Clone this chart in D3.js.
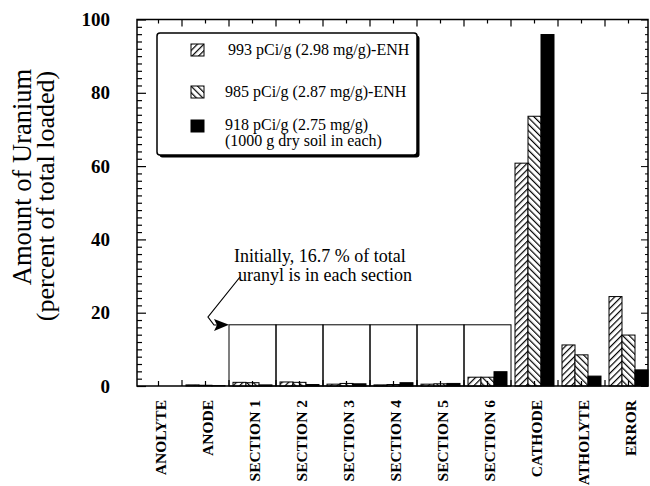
<!DOCTYPE html>
<html>
<head>
<meta charset="utf-8">
<script src="https://cdn.jsdelivr.net/npm/d3@7"></script>
<style>
  html, body { margin: 0; padding: 0; background: #fff; }
  svg { display: block; }
  text { font-family: "Liberation Serif", "Times New Roman", serif; fill: #000; }
</style>
</head>
<body>
<svg id="chart" width="650" height="486"></svg>
<script>
// ---- data ----
const categories = ["ANOLYTE", "ANODE", "SECTION 1", "SECTION 2", "SECTION 3", "SECTION 4",
                    "SECTION 5", "SECTION 6", "CATHODE", "CATHOLYTE", "ERROR"];
const seriesNames = ["993 pCi/g (2.98 mg/g)-ENH", "985 pCi/g (2.87 mg/g)-ENH", "918 pCi/g (2.75 mg/g)"];
const legendExtra = "(1000 g dry soil in each)";
const series993 = [0, 0.3, 1.0, 1.1, 0.5, 0.3, 0.5, 2.4, 60.8, 11.2, 24.4];
const series985 = [0, 0.2, 0.9, 1.0, 0.7, 0.4, 0.6, 2.4, 73.6, 8.5, 13.9];
const series918 = [0, 0.1, 0.3, 0.4, 0.6, 0.9, 0.7, 3.9, 95.9, 2.7, 4.4];
const yTicks = [0, 20, 40, 60, 80, 100];
const sectionCats = ["SECTION 1", "SECTION 2", "SECTION 3", "SECTION 4", "SECTION 5", "SECTION 6"];
const initialPct = 16.7;
const annotationLines = ["Initially, 16.7 % of total", "uranyl is in each section"];
const yTitleLines = ["Amount of Uranium", "(percent of total loaded)"];

const svg = d3.select("#chart");

// ---- scales ----
const xLeft = 137, xRight = 648, yTop = 19.5, yBot = 386;
const x = d3.scaleBand().domain(categories).range([135, 652]).padding(0);
const xs = d3.scaleBand().domain([0, 1, 2]).range([4, 43]).padding(0);
const y = d3.scaleLinear().domain([0, 100]).range([yBot, yTop]);

// ---- patterns ----
const defs = svg.append("defs");
function hatch(id, dir) {
  const p = defs.append("pattern").attr("id", id).attr("patternUnits", "userSpaceOnUse")
    .attr("width", 4.6).attr("height", 4.6)
    .attr("patternTransform", `rotate(${dir})`);
  p.append("rect").attr("width", 4.6).attr("height", 4.6).attr("fill", "#fff");
  p.append("line").attr("x1", 0).attr("y1", 0).attr("x2", 0).attr("y2", 4.6)
    .attr("stroke", "#000").attr("stroke-width", 2.4);
}
hatch("hatchA", 45);
hatch("hatchB", -45);
const fills = ["url(#hatchA)", "url(#hatchB)", "#000"];
const data = [series993, series985, series918];

// ---- section boxes (initial 16.7 %) ----
const boxG = svg.append("g");
sectionCats.forEach(c => {
  boxG.append("rect")
    .attr("x", x(c)).attr("y", y(initialPct))
    .attr("width", x.bandwidth()).attr("height", y(0) - y(initialPct))
    .attr("fill", "none").attr("stroke", "#000").attr("stroke-width", 1);
});

// ---- bars ----
const barG = svg.append("g");
categories.forEach((c, i) => {
  data.forEach((s, k) => {
    const v = s[i];
    if (v <= 0) return;
    barG.append("rect")
      .attr("x", x(c) + xs(k)).attr("y", y(v))
      .attr("width", xs.bandwidth()).attr("height", y(0) - y(v))
      .attr("fill", fills[k]).attr("stroke", "#000").attr("stroke-width", 1);
  });
});

// ---- frame and axes ----
const frame = svg.append("g").attr("stroke", "#000").attr("stroke-width", 1.5).attr("fill", "none");
frame.append("path").attr("d", `M${xLeft},${yTop}H${xRight}V${yBot}H${xLeft}Z`);

const minorTicks = d3.range(0, 101, 2).filter(v => v % 20 !== 0);
const axL = svg.append("g").attr("transform", `translate(${xLeft},0)`);
axL.call(d3.axisLeft(y).tickValues(yTicks).tickSize(-9).tickFormat(""));
axL.append("g").call(d3.axisLeft(y).tickValues(minorTicks).tickSize(-5).tickFormat(""));
axL.selectAll(".domain").remove();
axL.selectAll("line").attr("stroke-width", 1.2);

const axR = svg.append("g").attr("transform", `translate(${xRight},0)`);
axR.call(d3.axisRight(y).tickValues(yTicks).tickSize(-7).tickFormat(""));
axR.append("g").call(d3.axisRight(y).tickValues(minorTicks).tickSize(-3).tickFormat(""));
axR.selectAll(".domain").remove();
axR.selectAll("line").attr("stroke-width", 1);

// y tick labels
svg.append("g").selectAll("text").data(yTicks).join("text")
  .attr("x", 110).attr("y", d => y(d)).attr("dy", "0.35em")
  .attr("text-anchor", "end").attr("font-size", 19).attr("font-weight", "bold")
  .text(d => d);

// top / bottom ticks at category boundaries and centers
const xTickPos = [];
categories.forEach(c => {
  xTickPos.push({ p: x(c), major: true });
  xTickPos.push({ p: x(c) + x.bandwidth() / 2, major: false });
});
const inside = xTickPos.filter(t => t.p > xLeft + 2 && t.p < xRight - 2);
svg.append("g").selectAll("line").data(inside).join("line")
  .attr("x1", d => d.p).attr("x2", d => d.p)
  .attr("y1", yBot).attr("y2", d => yBot - (d.major ? 6 : 5))
  .attr("stroke", "#000").attr("stroke-width", 1.2);
svg.append("g").selectAll("line").data(inside).join("line")
  .attr("x1", d => d.p).attr("x2", d => d.p)
  .attr("y1", yTop).attr("y2", d => yTop + (d.major ? 7 : 4))
  .attr("stroke", "#000").attr("stroke-width", 1.2);

// x labels (rotated)
svg.append("g").selectAll("text").data(categories).join("text")
  .attr("transform", c => `translate(${x(c) + x.bandwidth() / 2 + 2},400) rotate(-90)`)
  .attr("dy", "0.35em").attr("text-anchor", "end")
  .attr("font-size", 15.5).attr("font-weight", "bold")
  .text(c => c);

// y title
svg.append("text").attr("transform", "translate(31,177) rotate(-90)")
  .attr("text-anchor", "middle").attr("font-size", 26.5).text(yTitleLines[0]);
svg.append("text").attr("transform", "translate(54,196) rotate(-90)")
  .attr("text-anchor", "middle").attr("font-size", 26).text(yTitleLines[1]);

// ---- legend ----
const lg = svg.append("g");
lg.append("rect").attr("x", 159.5).attr("y", 35.5).attr("width", 260).attr("height", 122)
  .attr("rx", 3).attr("fill", "#000");
lg.append("rect").attr("x", 157).attr("y", 33).attr("width", 260).attr("height", 122)
  .attr("rx", 3).attr("fill", "#fff").attr("stroke", "#000").attr("stroke-width", 1.5);
const legRows = [50, 92, 126];
const legTextY = [55, 97, 130];
seriesNames.forEach((n, k) => {
  lg.append("rect").attr("x", 191).attr("y", legRows[k] - 6).attr("width", 13).attr("height", 12)
    .attr("fill", fills[k]).attr("stroke", "#000").attr("stroke-width", 1);
  lg.append("text").attr("x", k === 0 ? 228 : 225).attr("y", legTextY[k])
    .attr("font-size", 16).text(n);
});
lg.append("text").attr("x", 225).attr("y", 146).attr("font-size", 16).text(legendExtra);

// ---- annotation ----
svg.append("text").attr("x", 234).attr("y", 262).attr("font-size", 18).text(annotationLines[0]);
svg.append("text").attr("x", 238).attr("y", 281).attr("font-size", 18).text(annotationLines[1]);
svg.append("path").attr("d", "M240,277 L208,317 L214,325 L218,325")
  .attr("fill", "none").attr("stroke", "#000").attr("stroke-width", 1.2);
svg.append("path").attr("d", `M${x("SECTION 1")},${y(initialPct)} L214,319 L217,325 L214,331 Z`)
  .attr("fill", "#000");
</script>
</body>
</html>
